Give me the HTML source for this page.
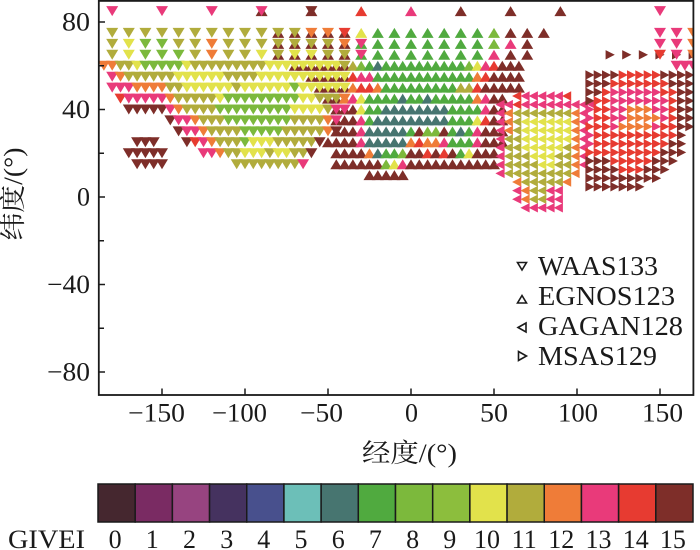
<!DOCTYPE html>
<html><head><meta charset="utf-8">
<style>
html,body{margin:0;padding:0;background:#fff;}
svg{display:block;}
text{font-family:"Liberation Serif","Noto Serif CJK SC",serif;fill:#1a1a1a;}
.cj{font-family:"Liberation Serif","Noto Serif CJK SC","Noto Sans CJK SC",serif;}
</style></head>
<body>
<svg id="s" width="700" height="550" viewBox="0 0 700 550" xmlns="http://www.w3.org/2000/svg">
<defs><clipPath id="cp"><rect x="99.5" y="1.5" width="593" height="393"/></clipPath></defs>
<g id="m" clip-path="url(#cp)"></g>
<!-- axes frame -->
<rect x="98.8" y="0.9" width="594.6" height="394.1" fill="none" stroke="#1a1a1a" stroke-width="1.8"/>
<!-- ticks -->
<g stroke="#1a1a1a" stroke-width="1.5">
<line x1="99" y1="22" x2="105" y2="22"/>
<line x1="99" y1="65.75" x2="104" y2="65.75"/>
<line x1="99" y1="109.5" x2="105" y2="109.5"/>
<line x1="99" y1="153.25" x2="104" y2="153.25"/>
<line x1="99" y1="197" x2="105" y2="197"/>
<line x1="99" y1="240.75" x2="104" y2="240.75"/>
<line x1="99" y1="284.5" x2="105" y2="284.5"/>
<line x1="99" y1="328.25" x2="104" y2="328.25"/>
<line x1="99" y1="372" x2="105" y2="372"/>
<line x1="162" y1="395" x2="162" y2="388.5"/>
<line x1="245" y1="395" x2="245" y2="388.5"/>
<line x1="328" y1="395" x2="328" y2="388.5"/>
<line x1="411" y1="395" x2="411" y2="388.5"/>
<line x1="494" y1="395" x2="494" y2="388.5"/>
<line x1="577" y1="395" x2="577" y2="388.5"/>
<line x1="660" y1="395" x2="660" y2="388.5"/>
</g>
<g font-size="26">
<text x="62" y="30.5" textLength="28" lengthAdjust="spacingAndGlyphs">80</text>
<text x="62" y="118" textLength="28" lengthAdjust="spacingAndGlyphs">40</text>
<text x="77" y="205.5" textLength="13" lengthAdjust="spacingAndGlyphs">0</text>
<text x="47" y="293" textLength="43" lengthAdjust="spacingAndGlyphs">−40</text>
<text x="47" y="380.5" textLength="43" lengthAdjust="spacingAndGlyphs">−80</text>
<text x="128" y="421.5" textLength="57" lengthAdjust="spacingAndGlyphs">−150</text>
<text x="212" y="421.5" textLength="55" lengthAdjust="spacingAndGlyphs">−100</text>
<text x="300" y="421.5" textLength="43" lengthAdjust="spacingAndGlyphs">−50</text>
<text x="405" y="421.5" textLength="13" lengthAdjust="spacingAndGlyphs">0</text>
<text x="480" y="421.5" textLength="28" lengthAdjust="spacingAndGlyphs">50</text>
<text x="558" y="421.5" textLength="40" lengthAdjust="spacingAndGlyphs">100</text>
<text x="642" y="421.5" textLength="41" lengthAdjust="spacingAndGlyphs">150</text>
</g>
<text class="cj" x="362" y="462" font-size="26" textLength="95" lengthAdjust="spacingAndGlyphs">经度/(°)</text>
<text class="cj" font-size="26" text-anchor="middle" transform="translate(22,194) rotate(-90)" textLength="93" lengthAdjust="spacingAndGlyphs">纬度/(°)</text>
<!-- legend -->
<g fill="#fff" stroke="#1a1a1a" stroke-width="1.6">
<polygon points="517.5,262.5 526.5,262.5 522,270"/>
<polygon points="517.5,303 526.5,303 522,295.5"/>
<polygon points="518,327.5 526,323 526,332"/>
<polygon points="518.5,351.5 518.5,360.5 526.5,356"/>
</g>
<g font-size="27">
<text x="538" y="275" textLength="120" lengthAdjust="spacingAndGlyphs">WAAS133</text>
<text x="538" y="305" textLength="137" lengthAdjust="spacingAndGlyphs">EGNOS123</text>
<text x="538" y="335" textLength="145" lengthAdjust="spacingAndGlyphs">GAGAN128</text>
<text x="538" y="365" textLength="119" lengthAdjust="spacingAndGlyphs">MSAS129</text>
</g>
<g id="cb" stroke="#1a1a1a" stroke-width="1.5"></g>
<g id="cbl" font-size="26"></g>
<text x="8" y="548" font-size="26" textLength="77" lengthAdjust="spacingAndGlyphs">GIVEI</text>
</svg>
<script>
(function(){
var C=['#45272f','#7a2b63','#974480','#45325f','#48508d','#6cbfb8','#477570','#50aa3f','#7cb93c','#8cbe3d','#e2e24b','#b1ac3c','#ef7c38','#e93a7a','#e73b31','#7e2e29'];
var out='';
function X(l){return 411+1.66*l}
function Y(l){return 197-2.1875*l}
function tri(t,x,y,c){
 var p,w,h;
 if(t==0){w=6;h=5;p=[x-w,y-h,x+w,y-h,x,y+h];}
 else if(t==1){w=6;h=5;p=[x-w,y+h,x+w,y+h,x,y-h];}
 else if(t==2){w=4.6;h=4.7;p=[x-w,y,x+w,y-h,x+w,y+h];}
 else {w=4.6;h=4.7;p=[x+w,y,x-w,y-h,x-w,y+h];}
 out+='<polygon points="'+p.map(function(v){return v.toFixed(1)}).join(' ')+'" fill="'+C[c]+'"/>';
}
function geo(t,rows){rows.forEach(function(r){var s=r[3];for(var i=0;i<s.length;i++){var ch=s[i];if(ch=='.')continue;tri(t,X(r[1]+r[2]*i),Y(r[0]),parseInt(ch,16));}});}
function pix(t,x0,dx,y0,dy,rows){rows.forEach(function(r,i){var s=r[1];for(var j=0;j<s.length;j++){var ch=s[j];if(ch=='.')continue;tri(t,x0+dx*(r[0]+j),y0+dy*i,parseInt(ch,16));}});}

// EGNOS (up)
geo(1,[
[85,-90,30,"ffedfff"],
[75,-80,10,"fffffa77777778fff"],
[70,-80,10,"fffff777777778df"],
[65,-80,10,"fffff77777777dff"],
[60,-70,5,"fffffffb87677777777778adefff"],
[55,-60,5,"fffffedd777777777777ceffff"],
[50,-55,5,"ffffceec777777777bbefffff"],
[45,-50,5,"ffcda7777677677777cdff"],
[40,-45,5,"fffa77666666667777dff"],
[35,-45,5,"fffd7666666666777aeff"],
[30,-45,5,"fffd666667f88f767dfff"],
[25,-50,5,"ffffd66666ceccd777dfff"],
[20,-45,5,"ffffc6778ffefef7afff"],
[15,-45,5,"ffffff8adfffffffffff"],
[10,-25,5,"fffff"]
]);
// GAGAN (left)
pix(2,500,8.33,96,8.6,[
[2,"eddddde"],
[0,"ddeddddddddd"],
[0,"dcbbbbbbbcd"],
[0,"dcbaaaaaacd"],
[0,"dcbaaaaaacd"],
[0,"dbbaaaaaacd"],
[0,"dbbaaaaabcd"],
[0,"dbbbaaabbcd"],
[0,"dbbbbaabbcd"],
[0,"dbbbbbbbbc"],
[2,"cbbbbbc"],
[2,"dcbbdd"],
[2,"dcbbdd"],
[3,"ddddd"]
]);
// MSAS (right)
geo(3,[[65,120,10,"ffffff"]]);
pix(3,598.3,8.33,75,8.6,[
[-1,"ffffeeeeeffff"],
[-1,"fffeeeeeeefff"],
[-1,"ffeddddddeeff"],
[-1,"feedddddddeff"],
[-1,"deeddcccddeff"],
[-1,"deeddccccdeff"],
[-1,"eeedccccdeeff"],
[-1,"deeeeeeeeeef."],
[-1,"deeeeeeeeeff."],
[-1,"eeeeeeeeefff."],
[-1,"fffeeeeefff.."],
[-1,"ffffeeefff..."],
[-1,"fffffffff...."],
[-1,"fffffff......"]
]);
// WAAS (down)
geo(0,[
[85,-180,30,"ddddf......d"],
[75,-180,10,"bbbbbbbbbbbbcce"],
[75,150,10,"ddc"],
[70,-180,10,"ba88bbcbbbbbbbcd"],
[70,150,10,"ddc"],
[65,-180,10,"ba888bcbbabaabbd"],
[65,150,10,"edc"],
[60,-185,5,"ccbba88888abbbbbbbbbaaaaaaaaab"],
[60,160,5,"ddd"],
[55,-180,5,"dcbbbbbbaaaaaabbbbaaaaaaaaaaa"],
[50,-180,5,"dddccccbbaaaaaabaaaaaa8aaaaaa"],
[45,-175,5,"edddddcbbbbba888888888aabbbc"],
[40,-170,5,"fffffdcbbbb888888888aaaabdd"],
[35,-145,5,"fddcbbb88888888bbbbcd"],
[30,-140,5,"fddcbbbb88888bbbbbcf"],
[25,-135,5,"fedcbbb8aaabbbbbf"],
[20,-125,5,"ddcbbaaabaabbf"],
[15,-105,5,"bbbbbbbbd"],
[25,-165,5,"fff"],
[20,-170,5,"fffff"],
[15,-165,5,"ffff"]
]);
document.getElementById('m').innerHTML=out;

var cb='',cl='',w=595/16;
for(var i=0;i<16;i++){
 cb+='<rect x="'+(98+w*i).toFixed(2)+'" y="484" width="'+w.toFixed(2)+'" height="38" fill="'+C[i]+'"/>';
 cl+='<text x="'+(98+w*(i+0.5)-1.5).toFixed(1)+'" y="548" text-anchor="middle">'+i+'</text>';
}
document.getElementById('cb').innerHTML=cb;
document.getElementById('cbl').innerHTML=cl;
})();
</script>
</body></html>
